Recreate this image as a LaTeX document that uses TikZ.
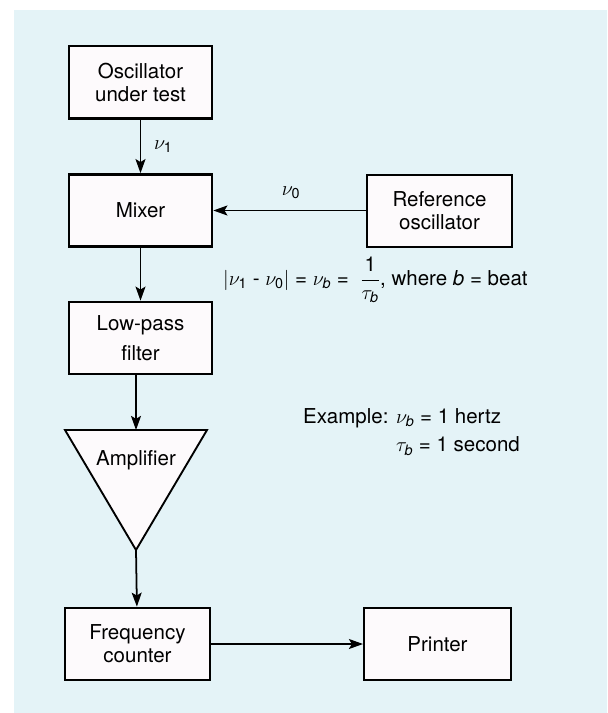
\documentclass[tikz,border=0pt]{standalone}
\usepackage{amsmath}
\usepackage{fontspec}
\setmainfont{TeX Gyre Heros}
\usetikzlibrary{arrows.meta}
\definecolor{sheet}{RGB}{228,243,247}
\definecolor{paper}{RGB}{253,250,252}

\begin{document}
\begin{tikzpicture}[x=0.03cm,y=-0.03cm,font=\fontsize{17.5}{19.5}\selectfont]
\tikzset{block/.style={draw,line width=2pt,fill=paper,minimum width=4.3cm,minimum height=2.17cm,align=center,inner sep=0pt},
flow/.style={line width=1.5pt,-{Stealth[length=12pt,width=8.5pt,inset=2.5pt]}}}
\fill[white] (0,0) rectangle (607,713);
\fill[sheet] (14,10) rectangle (607,713);
\node[block] (osc) at (140.5,82.5) {Oscillator\\under test};
\node[block] (mixer) at (140.5,210.5) {Mixer};
\node[block,minimum width=4.35cm] (ref) at (439.5,211) {Reference\\oscillator};
\node[block] (lpf) at (140.5,338) {Low-pass\\[6pt]filter};
\coordinate (ampin) at (136,430); \coordinate (ampout) at (136,550);
\draw[line width=1.6pt,fill=paper] (65,430) -- (207,430) -- (ampout) -- cycle;
\node (amp) at (136,460) {Amplifier};
\node[block,minimum width=4.35cm] (counter) at (137.5,644) {Frequency\\counter};
\node[block,minimum width=4.4cm] (printer) at (437.5,644) {Printer};
\node[anchor=west] (nu1) at (150,147) {$\nu_{\text{1}}$};
\node (nu0) at (291,193) {$\nu_{\text{0}}$};
\node[anchor=west,inner sep=0pt] (beat) at (223,280) {$|\nu_{\text{1}}$ - $\nu_{\text{0}}|$ = $\nu_{\textit{b}}$ = \;$\dfrac{\text{1}}{\tau_{\textit{b}}}$, where \textit{b} = beat};
\node[anchor=base west,inner sep=0pt] (example) at (303,423) {\begin{tabular}[t]{@{}l@{ }l@{}}Example: & $\nu_{\textit{b}}$ = 1 hertz\\[5pt] & $\tau_{\textit{b}}$ = 1 second\end{tabular}};

\draw[flow] (osc) -- (mixer);
\draw[flow] (ref.west |- mixer.east) -- (mixer.east);
\draw[flow] (mixer) -- (lpf);
\draw[flow] (lpf.south -| ampin) -- (ampin);
\draw[flow] (ampout) -- (counter);
\draw[flow] (counter) -- (printer);
\end{tikzpicture}
\end{document}
